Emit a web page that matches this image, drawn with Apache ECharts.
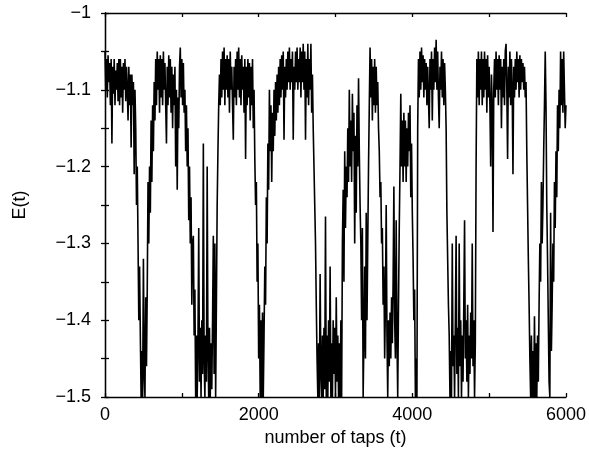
<!DOCTYPE html>
<html>
<head>
<meta charset="utf-8">
<script src="https://cdn.jsdelivr.net/npm/echarts@6/dist/echarts.min.js"></script>
<style>html,body{margin:0;padding:0;background:#fff}#c{width:589px;height:459px}</style>
</head>
<body>
<div id="c"></div>
<script>
// sampling grid of the series (taps between successive readings)
const tapStep = 10;
// E(t), one value every 10 taps, rows of 200 taps
const energy = [
  -1.05, -1.10, -1.06, -1.11, -1.055, -1.09, -1.065, -1.12, -1.06, -1.17, -1.07, -1.105, -1.06, -1.12, -1.075, -1.10, -1.065, -1.115, -1.06, -1.12,   // 0
  -1.06, -1.11, -1.07, -1.13, -1.065, -1.10, -1.06, -1.115, -1.07, -1.10, -1.14, -1.07, -1.12, -1.08, -1.175, -1.08, -1.12, -1.09, -1.21, -1.10,      // 200
  -1.15, -1.25, -1.20, -1.30, -1.40, -1.33, -1.42, -1.50, -1.44, -1.50, -1.32, -1.47, -1.50, -1.37, -1.46, -1.36, -1.22, -1.30, -1.20, -1.26,        // 400
  -1.14, -1.22, -1.12, -1.18, -1.09, -1.14, -1.06, -1.12, -1.05, -1.10, -1.06, -1.13, -1.055, -1.11, -1.06, -1.12, -1.05, -1.10, -1.065, -1.12,     // 600
  -1.17, -1.07, -1.12, -1.055, -1.11, -1.06, -1.13, -1.07, -1.15, -1.08, -1.12, -1.07, -1.20, -1.10, -1.23, -1.11, -1.15, -1.07, -1.045, -1.11,     // 800
  -1.06, -1.12, -1.065, -1.13, -1.10, -1.18, -1.12, -1.20, -1.15, -1.27, -1.20, -1.30, -1.24, -1.38, -1.30, -1.29, -1.42, -1.36, -1.50, -1.42,      // 1000
  -1.50, -1.43, -1.28, -1.48, -1.41, -1.50, -1.40, -1.47, -1.17, -1.45, -1.50, -1.42, -1.48, -1.20, -1.44, -1.50, -1.41, -1.50, -1.43, -1.49,       // 1200
  -1.40, -1.29, -1.47, -1.30, -1.50, -1.38, -1.25, -1.18, -1.12, -1.08, -1.12, -1.06, -1.11, -1.05, -1.10, -1.045, -1.12, -1.06, -1.10, -1.055,     // 1400
  -1.11, -1.06, -1.13, -1.05, -1.10, -1.07, -1.12, -1.165, -1.07, -1.11, -1.06, -1.12, -1.05, -1.10, -1.045, -1.11, -1.06, -1.12, -1.055, -1.10,    // 1600
  -1.07, -1.13, -1.06, -1.19, -1.07, -1.12, -1.06, -1.11, -1.065, -1.14, -1.07, -1.12, -1.06, -1.15, -1.10, -1.19, -1.25, -1.22, -1.35, -1.30,      // 1800
  -1.45, -1.38, -1.50, -1.40, -1.50, -1.39, -1.50, -1.42, -1.33, -1.38, -1.24, -1.30, -1.17, -1.23, -1.10, -1.18, -1.12, -1.22, -1.13, -1.18,       // 2000
  -1.10, -1.16, -1.09, -1.14, -1.08, -1.13, -1.07, -1.12, -1.06, -1.11, -1.055, -1.10, -1.05, -1.165, -1.07, -1.11, -1.06, -1.10, -1.05, -1.09,     // 2200
  -1.045, -1.10, -1.06, -1.09, -1.05, -1.165, -1.07, -1.10, -1.05, -1.09, -1.045, -1.10, -1.06, -1.09, -1.045, -1.11, -1.05, -1.09, -1.04, -1.10,   // 2400
  -1.05, -1.165, -1.06, -1.11, -1.04, -1.12, -1.06, -1.10, -1.04, -1.13, -1.08, -1.15, -1.20, -1.25, -1.30, -1.38, -1.45, -1.50, -1.43, -1.50,      // 2600
  -1.34, -1.47, -1.50, -1.42, -1.50, -1.41, -1.49, -1.265, -1.50, -1.42, -1.50, -1.40, -1.48, -1.33, -1.50, -1.43, -1.50, -1.40, -1.47, -1.41,      // 2800
  -1.50, -1.37, -1.48, -1.42, -1.50, -1.43, -1.50, -1.40, -1.50, -1.30, -1.23, -1.35, -1.18, -1.28, -1.20, -1.24, -1.15, -1.22, -1.10, -1.20,       // 3000
  -1.14, -1.22, -1.105, -1.18, -1.13, -1.30, -1.16, -1.26, -1.12, -1.20, -1.085, -1.18, -1.25, -1.30, -1.40, -1.28, -1.50, -1.42, -1.33, -1.45,     // 3200
  -1.26, -1.40, -1.30, -1.20, -1.12, -1.045, -1.11, -1.06, -1.14, -1.07, -1.12, -1.06, -1.13, -1.07, -1.12, -1.09, -1.15, -1.18, -1.24, -1.22,      // 3400
  -1.30, -1.28, -1.38, -1.33, -1.45, -1.38, -1.25, -1.42, -1.50, -1.40, -1.46, -1.39, -1.45, -1.37, -1.43, -1.35, -1.226, -1.40, -1.45, -1.27,      // 3600
  -1.42, -1.50, -1.38, -1.28, -1.20, -1.105, -1.20, -1.14, -1.22, -1.13, -1.20, -1.14, -1.22, -1.15, -1.20, -1.13, -1.18, -1.12, -1.24, -1.17,      // 3800
  -1.26, -1.32, -1.40, -1.36, -1.50, -1.45, -1.50, -1.15, -1.06, -1.11, -1.05, -1.10, -1.045, -1.09, -1.055, -1.11, -1.06, -1.10, -1.065, -1.12,    // 4000
  -1.07, -1.11, -1.15, -1.06, -1.10, -1.05, -1.14, -1.06, -1.10, -1.045, -1.09, -1.035, -1.10, -1.05, -1.11, -1.15, -1.07, -1.10, -1.05, -1.11,     // 4200
  -1.06, -1.12, -1.065, -1.10, -1.15, -1.26, -1.32, -1.38, -1.42, -1.50, -1.44, -1.50, -1.30, -1.46, -1.42, -1.50, -1.40, -1.29, -1.47, -1.41,      // 4400
  -1.50, -1.30, -1.46, -1.40, -1.50, -1.42, -1.48, -1.38, -1.27, -1.45, -1.40, -1.48, -1.38, -1.50, -1.42, -1.47, -1.39, -1.45, -1.30, -1.46,       // 4600
  -1.40, -1.50, -1.43, -1.20, -1.06, -1.11, -1.05, -1.12, -1.06, -1.10, -1.05, -1.12, -1.06, -1.11, -1.05, -1.10, -1.06, -1.13, -1.055, -1.11,      // 4800
  -1.07, -1.12, -1.20, -1.08, -1.12, -1.285, -1.10, -1.06, -1.11, -1.05, -1.10, -1.06, -1.12, -1.055, -1.10, -1.06, -1.15, -1.07, -1.11, -1.06,     // 5000
  -1.12, -1.05, -1.04, -1.10, -1.19, -1.07, -1.11, -1.05, -1.12, -1.06, -1.10, -1.21, -1.07, -1.11, -1.06, -1.10, -1.05, -1.09, -1.06, -1.11,       // 5200
  -1.055, -1.10, -1.06, -1.09, -1.065, -1.10, -1.07, -1.11, -1.09, -1.18, -1.25, -1.32, -1.38, -1.45, -1.50, -1.42, -1.50, -1.44, -1.50, -1.395,   // 5400
  -1.50, -1.43, -1.50, -1.42, -1.48, -1.38, -1.30, -1.35, -1.22, -1.30, -1.25, -1.18, -1.12, -1.05, -1.12, -1.25, -1.32, -1.40, -1.48, -1.50,       // 5600
  -1.26, -1.44, -1.38, -1.30, -1.35, -1.22, -1.28, -1.18, -1.24, -1.12, -1.18, -1.10, -1.15, -1.05, -1.12, -1.06, -1.13, -1.05, -1.10, -1.15,       // 5800
  -1.12                                                                                                                                               // 6000
];
const xTicks = [0, 2000, 4000, 6000];
const yTicks = [-1.5, -1.4, -1.3, -1.2, -1.1, -1];

const seriesData = energy.map((v, i) => [i * tapStep, v]);
const fontFamily = '"Liberation Sans", Arial, Helvetica, sans-serif';
const minus = s => String(s).replace('-', '\u2212');

const chart = echarts.init(document.getElementById('c'), null, {renderer: 'canvas'});
const lineStyle = {color: '#000', width: 1.3};
chart.setOption({
  animation: false,
  backgroundColor: '#fff',
  grid: {left: 105, right: 23, top: 13, bottom: 62, containLabel: false},
  xAxis: [{
    type: 'value', min: 0, max: 6000, interval: 1000, position: 'bottom',
    name: 'number of taps (t)', nameLocation: 'middle', nameGap: 30,
    nameTextStyle: {fontFamily, fontSize: 18, color: '#000'},
    axisLine: {show: true, lineStyle},
    axisTick: {show: true, inside: true, length: 4, lineStyle},
    axisLabel: {fontFamily, fontSize: 18, color: '#000', margin: 9,
      formatter: v => xTicks.includes(v) ? String(v) : ''},
    splitLine: {show: false}
  }, {
    type: 'value', min: 0, max: 6000, interval: 1000, position: 'top',
    axisLine: {show: true, lineStyle},
    axisTick: {show: true, inside: true, length: 4, lineStyle},
    axisLabel: {show: false}, splitLine: {show: false}
  }],
  yAxis: [{
    type: 'value', min: -1.5, max: -1, interval: 0.05, position: 'left',
    name: 'E(t)', nameLocation: 'middle', nameGap: 76, nameRotate: 90,
    nameTextStyle: {fontFamily, fontSize: 18, color: '#000'},
    axisLine: {show: true, lineStyle},
    axisTick: {show: true, inside: true, length: 4, lineStyle},
    axisLabel: {fontFamily, fontSize: 18, color: '#000', margin: 14,
      formatter: v => {
        const r = Math.round(v * 100) / 100;
        return yTicks.some(t => Math.abs(t - r) < 1e-9) ? minus(r) : '';
      }},
    splitLine: {show: false}
  }, {
    type: 'value', min: -1.5, max: -1, interval: 0.05, position: 'right',
    axisLine: {show: true, lineStyle},
    axisTick: {show: true, inside: true, length: 4, lineStyle},
    axisLabel: {show: false}, splitLine: {show: false}
  }],
  series: [{
    type: 'line', xAxisIndex: 0, yAxisIndex: 0,
    data: seriesData, showSymbol: false, symbol: 'none',
    lineStyle: {color: '#000', width: 1.6}, clip: true
  }]
});
</script>
</body>
</html>
